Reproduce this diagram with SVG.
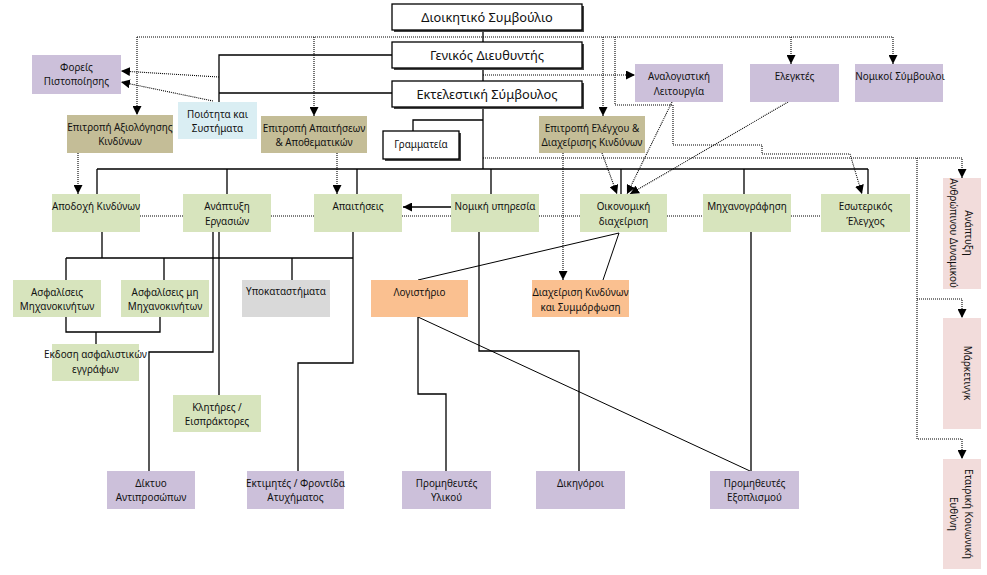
<svg xmlns="http://www.w3.org/2000/svg" width="987" height="575" viewBox="0 0 987 575">
<defs>
<marker id="ah" viewBox="0 0 10 10" refX="10" refY="5" markerWidth="9" markerHeight="9" markerUnits="userSpaceOnUse" orient="auto"><path d="M0,0 L10,5 L0,10 z" fill="#000"/></marker>
<style>
text{font-family:"Noto Sans","Open Sans",sans-serif;font-size:9.9px;fill:#111;text-anchor:middle;dominant-baseline:central}
.big{font-size:12.8px}
.top{fill:#fff;stroke:#000;stroke-width:1.3}
.sh{fill:#444}
.pur{fill:#CCC0DA}
.tan{fill:#C4BD97}
.grn{fill:#D7E4BD}
.blu{fill:#DAEEF3}
.gry{fill:#D9D9D9}
.org{fill:#FAC090}
.pnk{fill:#F2DCDB}
.s{fill:none;stroke:#000;stroke-width:1.3}
.t{fill:none;stroke:#000;stroke-width:1}
.d{fill:none;stroke:#000;stroke-width:1.1;stroke-dasharray:1 1}
.a{marker-end:url(#ah)}
</style>
</defs>
<rect width="987" height="575" fill="#fff"/>
<g id="connectors">
<path class="s" d="M483,30V42M483,68V81M483,107V169M97,169H868M97,169V194M227,169V194M357,169V194M491,169V194M621,169V194M744,169V194M868,169V194"/>
<path class="s" d="M483,120H413V131M392,55H219V102M392,93H219"/>
<path class="s" d="M102,232V258M66,258H353M66,258V280M164,258V280M292,258V280M353,232V363H298V471"/>
<path class="s" d="M66,317V332H160V317M96,332V344"/>
<path class="s" d="M213,232V352H149V471M219,232V395"/>
<path class="s" d="M479,232V351H579V471M418,317V394H446V471M751,232V471"/>
<path class="t" d="M619,233L418,280M619,233L603,280M418,317L750,471"/>
<path class="s a" d="M451,207H403" stroke-width="1.6"/>
<path class="d" d="M137,37H893"/>
<path class="d a" d="M137,37V115"/>
<path class="d a" d="M314,37V116"/>
<path class="d a" d="M603,37V116"/>
<path class="d a" d="M791,37V64"/>
<path class="d a" d="M893,37V64"/>
<path class="d a" d="M219,77L121,71"/>
<path class="d a" d="M213,101L121,82"/>
<path class="d a" d="M483,75H635"/>
<path class="d a" d="M615,37V105H673V145H762V154H850L862,194"/>
<path class="d a" d="M78,153V194"/>
<path class="d a" d="M337,153V194"/>
<path class="d a" d="M602,153L617,194"/>
<path class="d a" d="M672,102L627,194"/>
<path class="d a" d="M788,102L630,194"/>
<path class="d a" d="M563,153V280"/>
<path class="d a" d="M483,158H962V178"/>
<path class="d a" d="M917,158V439H962V459"/>
<path class="d a" d="M917,299H962V318"/>
<path class="d" d="M140,216H183M271,216H314M402,216H451M539,216H580M667,216H703M791,216H821"/>
</g>
<g id="n_board"><rect class="sh" x="394" y="6" width="190" height="26"/><rect class="top" x="392" y="4" width="190" height="26"/><text class="big" x="487" y="17">Διοικητικό Συμβούλιο</text></g>
<g id="n_gm"><rect class="sh" x="394" y="44" width="190" height="26"/><rect class="top" x="392" y="42" width="190" height="26"/><text class="big" x="487" y="55">Γενικός Διευθυντής</text></g>
<g id="n_exec"><rect class="sh" x="394" y="83" width="190" height="26"/><rect class="top" x="392" y="81" width="190" height="26"/><text class="big" x="487" y="94">Εκτελεστική Σύμβουλος</text></g>
<g id="n_secr"><rect class="sh" x="385" y="133" width="76" height="28"/><rect class="top" x="383" y="131" width="76" height="28"/><text x="421" y="144">Γραμματεία</text></g>
<g id="n_cert"><rect class="pur" x="32" y="55" width="89" height="39"/><text x="76.5" y="67">Φορείς</text><text x="76.5" y="81">Πιστοποίησης</text></g>
<g id="n_actuarial"><rect class="pur" x="635" y="64" width="88" height="38"/><text x="679" y="76">Αναλογιστική</text><text x="679" y="91">Λειτουργία</text></g>
<g id="n_auditors"><rect class="pur" x="750" y="64" width="89" height="38"/><text x="794.5" y="76">Ελεγκτές</text></g>
<g id="n_legal_adv"><rect class="pur" x="855" y="64" width="88" height="38"/><text x="900" y="76">Νομικοί Σύμβουλοι</text></g>
<g id="n_quality"><rect class="blu" x="178" y="102" width="79" height="37"/><text x="217.5" y="114">Ποιότητα και</text><text x="217.5" y="128">Συστήματα</text></g>
<g id="n_risk_comm"><rect class="tan" x="67" y="115" width="106" height="38"/><text x="120" y="127">Επιτροπή Αξιολόγησης</text><text x="120" y="141">Κινδύνων</text></g>
<g id="n_claims_comm"><rect class="tan" x="261" y="116" width="106" height="37"/><text x="314" y="128">Επιτροπή Απαιτήσεων</text><text x="314" y="142">&amp; Αποθεματικών</text></g>
<g id="n_audit_comm"><rect class="tan" x="539" y="116" width="106" height="37"/><text x="592" y="128">Επιτροπή Ελέγχου &amp;</text><text x="592" y="142">Διαχείρισης Κινδύνων</text></g>
<g id="n_underwriting"><rect class="grn" x="52" y="194" width="88" height="38"/><text x="96" y="206">Αποδοχή Κινδύνων</text></g>
<g id="n_bizdev"><rect class="grn" x="183" y="194" width="88" height="38"/><text x="227" y="206">Ανάπτυξη</text><text x="227" y="221">Εργασιών</text></g>
<g id="n_claims"><rect class="grn" x="314" y="194" width="88" height="38"/><text x="358" y="206">Απαιτήσεις</text></g>
<g id="n_legal"><rect class="grn" x="451" y="194" width="88" height="38"/><text x="495" y="206">Νομική υπηρεσία</text></g>
<g id="n_finance"><rect class="grn" x="580" y="194" width="87" height="38"/><text x="623.5" y="206">Οικονομική</text><text x="623.5" y="221">διαχείριση</text></g>
<g id="n_it"><rect class="grn" x="703" y="194" width="88" height="38"/><text x="747" y="206">Μηχανογράφηση</text></g>
<g id="n_internal"><rect class="grn" x="821" y="194" width="89" height="38"/><text x="865.5" y="206">Εσωτερικός</text><text x="865.5" y="221">Έλεγχος</text></g>
<g id="n_motor"><rect class="grn" x="13" y="280" width="88" height="37"/><text x="57" y="292">Ασφαλίσεις</text><text x="57" y="306">Μηχανοκινήτων</text></g>
<g id="n_nonmotor"><rect class="grn" x="121" y="280" width="88" height="37"/><text x="165" y="292">Ασφαλίσεις μη</text><text x="165" y="306">Μηχανοκινήτων</text></g>
<g id="n_branches"><rect class="gry" x="242" y="280" width="88" height="37"/><text x="286" y="291">Υποκαταστήματα</text></g>
<g id="n_issue"><rect class="grn" x="52" y="344" width="87" height="37"/><text x="95.5" y="354">Εκδοση ασφαλιστικών</text><text x="95.5" y="369">εγγράφων</text></g>
<g id="n_accounting"><rect class="org" x="371" y="280" width="97" height="37"/><text x="419.5" y="292">Λογιστήριο</text></g>
<g id="n_riskmgmt"><rect class="org" x="532" y="280" width="97" height="37"/><text x="580.5" y="292">Διαχείριση Κινδύνων</text><text x="580.5" y="307">και Συμμόρφωση</text></g>
<g id="n_collectors"><rect class="grn" x="173" y="395" width="88" height="37"/><text x="217" y="407">Κλητήρες /</text><text x="217" y="421">Εισπράκτορες</text></g>
<g id="n_agents"><rect class="pur" x="107" y="471" width="88" height="38"/><text x="151" y="483">Δίκτυο</text><text x="151" y="497">Αντιπροσώπων</text></g>
<g id="n_assessors"><rect class="pur" x="247" y="471" width="97" height="38"/><text x="295.5" y="483">Εκτιμητές / Φροντίδα</text><text x="295.5" y="497">Ατυχήματος</text></g>
<g id="n_supp_mat"><rect class="pur" x="402" y="471" width="89" height="38"/><text x="446.5" y="483">Προμηθευτές</text><text x="446.5" y="497">Υλικού</text></g>
<g id="n_lawyers"><rect class="pur" x="536" y="471" width="89" height="38"/><text x="580.5" y="483">Δικηγόροι</text></g>
<g id="n_supp_eq"><rect class="pur" x="710" y="471" width="89" height="38"/><text x="754.5" y="483">Προμηθευτές</text><text x="754.5" y="497">Εξοπλισμού</text></g>
<g id="n_hr"><rect class="pnk" x="943" y="178" width="38" height="111"/><text transform="translate(962,233) rotate(90)" x="0" y="-7">Ανάπτυξη</text><text transform="translate(962,233) rotate(90)" x="0" y="8">Ανθρώπινου Δυναμικού</text></g>
<g id="n_marketing"><rect class="pnk" x="943" y="318" width="38" height="111"/><text transform="translate(962,373) rotate(90)" x="0" y="-6">Μάρκετινγκ</text></g>
<g id="n_csr"><rect class="pnk" x="943" y="459" width="38" height="110"/><text transform="translate(962,514) rotate(90)" x="0" y="-7">Εταιρική Κοινωνική</text><text transform="translate(962,514) rotate(90)" x="0" y="8">Ευθύνη</text></g>
</svg>
